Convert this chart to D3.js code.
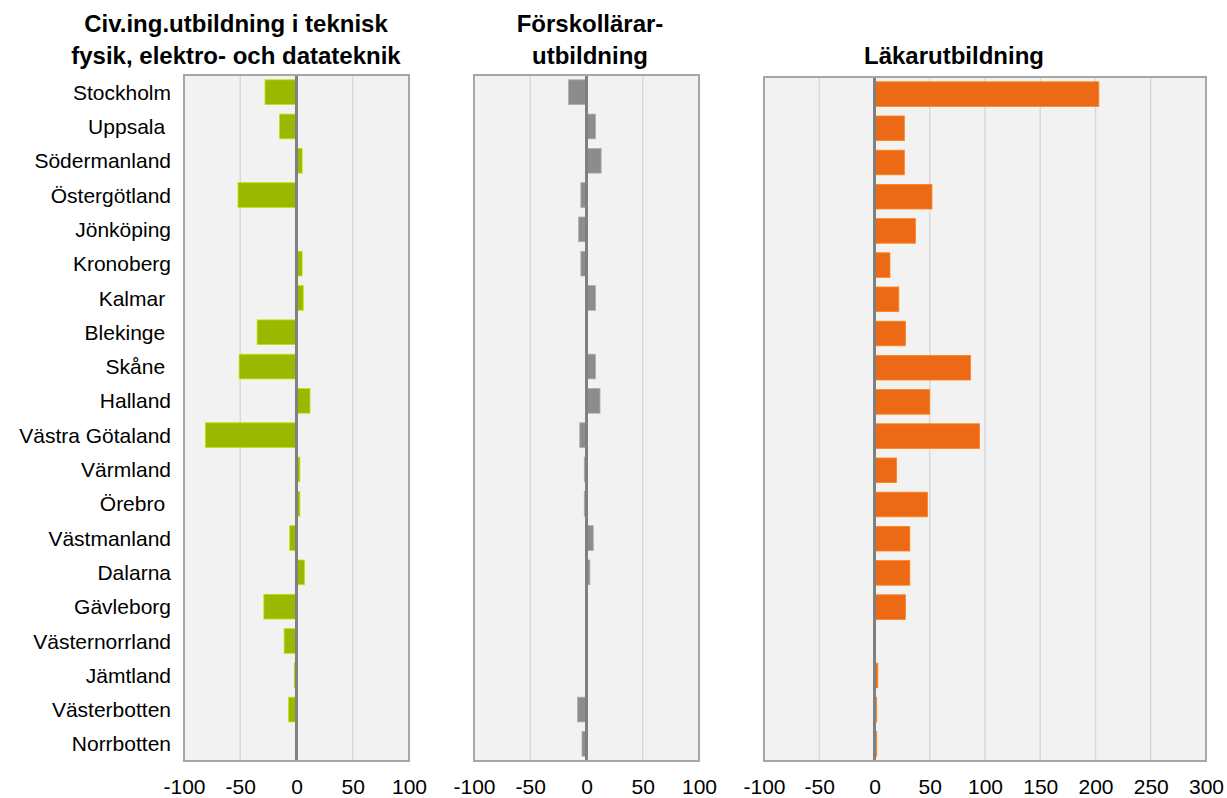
<!DOCTYPE html>
<html>
<head>
<meta charset="utf-8">
<script src="https://cdn.jsdelivr.net/npm/d3@7"></script>
<style>
  body { margin: 0; background: #fff; }
  text { font-family: "Liberation Sans", Arial, sans-serif; fill: #000; white-space: pre; }
</style>
</head>
<body>
<div id="chart"></div>
<script>
const WIDTH = 1227
const HEIGHT = 798

// categories (some labels carry a trailing space in the original)
const regions = ["Stockholm", "Uppsala ", "Södermanland", "Östergötland", "Jönköping",
  "Kronoberg", "Kalmar ", "Blekinge ", "Skåne ", "Halland", "Västra Götaland",
  "Värmland", "Örebro ", "Västmanland", "Dalarna", "Gävleborg", "Västernorrland",
  "Jämtland", "Västerbotten", "Norrbotten"]

const civing = [-28, -15, 5, -52, 1, 5, 6, -35, -51, 12, -81, 3, 3, -6, 7, -29, -11, -2, -7, 0]
const forskola = [-16, 8, 13, -5, -7, -5, 8, 0, 8, 12, -6, -2, -2, 6, 3, 0, -0.5, 0, -8, -4]
const lakare = [203, 27, 27, 52, 37, 14, 22, 28, 87, 50, 95, 20, 48, 32, 32, 28, 0, 3, 2, 2]

const ticksSmall = [-100, -50, 0, 50, 100]
const ticksLarge = [-100, -50, 0, 50, 100, 150, 200, 250, 300]

const panels = [
  { title: ["Civ.ing.utbildning i teknisk", "fysik, elektro- och datateknik"], titleX: 236,
    values: civing, color: "#9bb800", ticks: ticksSmall, left: 184, right: 409, top: 75 },
  { title: ["Förskollärar-", "utbildning"], titleX: 590,
    values: forskola, color: "#8c8c8c", ticks: ticksSmall, left: 474, right: 699, top: 75 },
  { title: ["Läkarutbildning"], titleX: 954,
    values: lakare, color: "#ec6a15", ticks: ticksLarge, left: 764, right: 1206, top: 77 }
]
const BOTTOM = 761

const svg = d3.select("#chart").append("svg")
  .attr("width", WIDTH)
  .attr("height", HEIGHT)

panels.forEach((p, i) => {
  const x = d3.scaleLinear()
    .domain(d3.extent(p.ticks))
    .range([p.left, p.right])
  const y = d3.scaleBand()
    .domain(regions)
    .range([p.top, BOTTOM])
    .paddingInner(0.28)
    .paddingOuter(0.14)

  const g = svg.append("g")

  // plot area
  g.append("rect")
    .attr("x", p.left).attr("y", p.top)
    .attr("width", p.right - p.left).attr("height", BOTTOM - p.top)
    .attr("fill", "#f2f2f2")

  // gridlines
  g.selectAll(".grid")
    .data(p.ticks.slice(1, -1))
    .enter().append("line")
    .attr("x1", d => x(d)).attr("x2", d => x(d))
    .attr("y1", p.top).attr("y2", BOTTOM)
    .attr("stroke", "#d9d9d9")
    .attr("stroke-width", 1.5)

  // bars
  g.selectAll(".bar")
    .data(p.values)
    .enter().append("rect")
    .attr("x", d => x(Math.min(0, d)))
    .attr("y", (d, j) => y(regions[j]))
    .attr("width", d => Math.abs(x(d) - x(0)))
    .attr("height", y.bandwidth())
    .attr("fill", p.color)
    .attr("stroke", d3.color(p.color).brighter(0.6))
    .attr("stroke-width", 0.8)

  // zero line
  g.append("line")
    .attr("x1", x(0)).attr("x2", x(0))
    .attr("y1", p.top).attr("y2", BOTTOM)
    .attr("stroke", "#808080")
    .attr("stroke-width", 3)

  // frame
  g.append("rect")
    .attr("x", p.left).attr("y", p.top)
    .attr("width", p.right - p.left).attr("height", BOTTOM - p.top)
    .attr("fill", "none")
    .attr("stroke", "#a6a6a6")
    .attr("stroke-width", 2)

  // x axis tick labels (plain hyphen minus like the original)
  const xAxis = d3.axisBottom(x).tickValues(p.ticks).tickSize(0).tickPadding(0)
    .tickFormat(d => String(d))
  const ax = g.append("g")
    .attr("transform", `translate(0, ${BOTTOM + 18})`)
    .call(xAxis)
  ax.select(".domain").remove()
  ax.selectAll("text")
    .attr("dy", 0).attr("y", 15)
    .attr("font-size", 21)
    .attr("font-family", "Liberation Sans, Arial, sans-serif")
    .attr("fill", "#000")

  // title
  const t = g.append("text")
    .attr("text-anchor", "middle")
    .attr("font-size", 24)
    .attr("font-weight", "bold")
  const baseY = p.title.length === 2 ? 32 : 64
  p.title.forEach((line, k) => {
    t.append("tspan")
      .attr("x", p.titleX)
      .attr("y", baseY + k * 32)
      .text(line)
  })

  // category labels on first panel
  if (i === 0) {
    g.selectAll(".lbl")
      .data(regions)
      .enter().append("text")
      .attr("x", 171)
      .attr("y", d => y(d) + y.bandwidth() / 2)
      .attr("dy", "0.36em")
      .attr("text-anchor", "end")
      .attr("font-size", 21)
      .text(d => d)
  }
})
</script>
</body>
</html>
